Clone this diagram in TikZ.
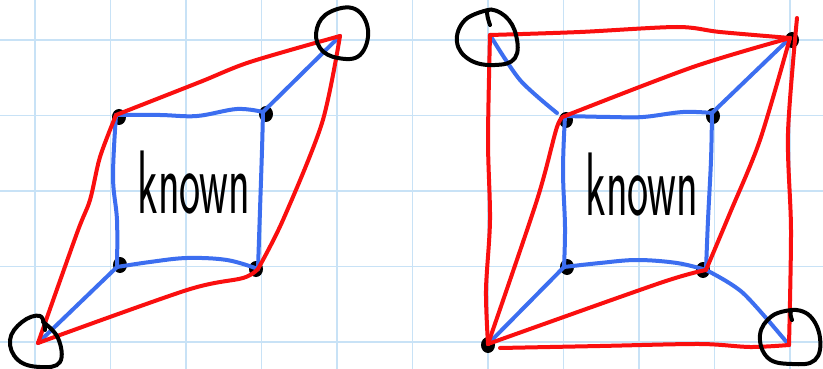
\documentclass[tikz,border=0pt]{standalone}
\usepackage{graphicx}
\usetikzlibrary{shapes.geometric}
\begin{document}
\begin{tikzpicture}[x=1pt,y=-1pt,
  gridline/.style={draw=gridblue,line width=1.4pt},
  redline/.style={draw=penred,line width=4pt,line cap=round,line join=round},
  blueline/.style={draw=penblue,line width=4pt,line cap=round,line join=round},
  ring/.style={draw=black,line width=4pt,line cap=round},
  dot/.style={ellipse,fill=black,inner sep=0pt,minimum width=14pt,minimum height=16pt},
  lbl/.style={inner sep=0pt,font=\sffamily}]
\definecolor{gridblue}{RGB}{200,226,246}
\definecolor{penred}{RGB}{250,15,15}
\definecolor{penblue}{RGB}{60,110,240}
\useasboundingbox (0,0) rectangle (823,369);
\fill[white] (0,0) rectangle (823,369);
% grid
\foreach \i in {0,...,10} \draw[gridline] ({35+75.5*\i},0) -- ({35+75.5*\i},369);
\foreach \j in {0,...,4} \draw[gridline] (0,{40+75.5*\j}) -- (823,{40+75.5*\j});

% ---------------- left diagram ----------------
\coordinate (LTL) at (116,115);
\coordinate (LTR) at (263,112);
\coordinate (LBL) at (117,267);
\coordinate (LBR) at (258,269);
\coordinate (LOT) at (340,36);
\coordinate (LOB) at (38,343);

\node[dot] (dLTL) at (119,117) {};
\node[dot] (dLTR) at (266,114) {};
\node[dot] (dLBL) at (120,265) {};
\node[dot] (dLBR) at (256,269) {};
\draw[blueline] plot[smooth,tension=0.6] coordinates {(LTL) (160,115) (197,116) (237,109) (LTR)};
\draw[blueline] plot[smooth,tension=0.6] coordinates {(LTR) (262,150) (260,210) (LBR)};
\draw[blueline] plot[smooth,tension=0.6] coordinates {(LBL) (150,262) (187,258) (227,260) (LBR)};
\draw[blueline] plot[smooth,tension=0.6] coordinates {(LTL) (113,177) (117,220) (LBL)};
\draw[blueline] (LOB) -- (LBL);
\draw[blueline] (LTR) -- (LOT);
\draw[redline] plot[smooth,tension=0.5] coordinates {(LOB) (77,233) (90,200) (100,157) (LTL)};
\draw[redline] plot[smooth,tension=0.5] coordinates {(LTL) (200,82) (250,62) (LOT)};
\draw[redline] plot[smooth,tension=0.5] coordinates {(LOT) (322,123) (283,220) (LBR)};
\draw[redline] plot[smooth,tension=0.5] coordinates {(LBR) (243,278) (187,290) (LOB)};
\draw[ring] plot[smooth cycle,tension=0.7] coordinates {(330,12) (355,9) (368,30) (360,55) (338,58) (320,48) (317,28)};
\draw[ring] plot[smooth,tension=0.7] coordinates {(43,322) (58,338) (60,362) (40,367) (18,360) (10,340) (22,322) (40,316) (45,330)};
\node[lbl] (tL) at (194,183) {\scalebox{1.02}[2.05]{\fontsize{44}{44}\selectfont known}};

% ---------------- right diagram ----------------
\coordinate (RTL) at (565,116);
\coordinate (RTR) at (712,113);
\coordinate (RBL) at (564,267);
\coordinate (RBR) at (706,270);
\coordinate (OTL) at (490,35);
\coordinate (OTR) at (790,38);
\coordinate (OBL) at (488,344);
\coordinate (OBR) at (789,345);
\coordinate (OTRx) at (797,18);

\node[dot] (dRTL) at (566,120) {};
\node[dot] (dRTR) at (713,116) {};
\node[dot] (dRBL) at (567,267) {};
\node[dot] (dRBR) at (703,270) {};
\node[dot] (dOTR) at (792,40) {};
\node[dot] (dOBL) at (488,345) {};
\draw[blueline] plot[smooth,tension=0.6] coordinates {(RTL) (610,117) (643,117) (683,112) (RTR)};
\draw[blueline] plot[smooth,tension=0.6] coordinates {(RTR) (711,160) (708,220) (RBR)};
\draw[blueline] plot[smooth,tension=0.6] coordinates {(RBL) (600,263) (637,260) (677,263) (RBR)};
\draw[blueline] plot[smooth,tension=0.6] coordinates {(RTL) (563,170) (565,227) (RBL)};
\draw[blueline] plot[smooth,tension=0.5] coordinates {(OTL) (520,80) (557,113)};
\draw[blueline] (RTR) -- (OTR);
\draw[blueline] (RBL) -- (OBL);
\draw[blueline] plot[smooth,tension=0.5] coordinates {(RBR) (743,293) (OBR)};
\draw[redline] plot[smooth,tension=0.5] coordinates {(OTL) (580,32) (677,27) (720,32) (OTR)};
\draw[redline] plot[smooth,tension=0.5] coordinates {(OTL) (488,140) (490,220) (486,290) (OBL)};
\draw[redline] plot[smooth,tension=0.5] coordinates {(500,348) (600,346) (700,344) (750,347) (OBR)};
\draw[redline] plot[smooth,tension=0.5] coordinates {(OTRx) (788,133) (791,230) (OBR)};
\draw[redline] plot[smooth,tension=0.5] coordinates {(OBL) (537,200) (557,127) (RTL)};
\draw[redline] plot[smooth,tension=0.5] coordinates {(RTL) (693,67) (OTR)};
\draw[redline] plot[smooth,tension=0.5] coordinates {(OTR) (760,140) (730,213) (RBR)};
\draw[redline] plot[smooth,tension=0.5] coordinates {(RBR) (660,283) (OBL)};
\draw[ring] plot[smooth,tension=0.7] coordinates {(490,25) (488,10) (505,16) (516,35) (515,58) (495,65) (470,60) (457,42) (465,20) (488,10)};
\draw[ring] plot[smooth,tension=0.7] coordinates {(792,320) (792,310) (810,316) (820,338) (815,360) (792,364) (768,358) (760,335) (772,316) (792,310)};
\node[lbl] (tR) at (642,185) {\scalebox{1.02}[2.05]{\fontsize{44}{44}\selectfont known}};
\end{tikzpicture}
\end{document}
